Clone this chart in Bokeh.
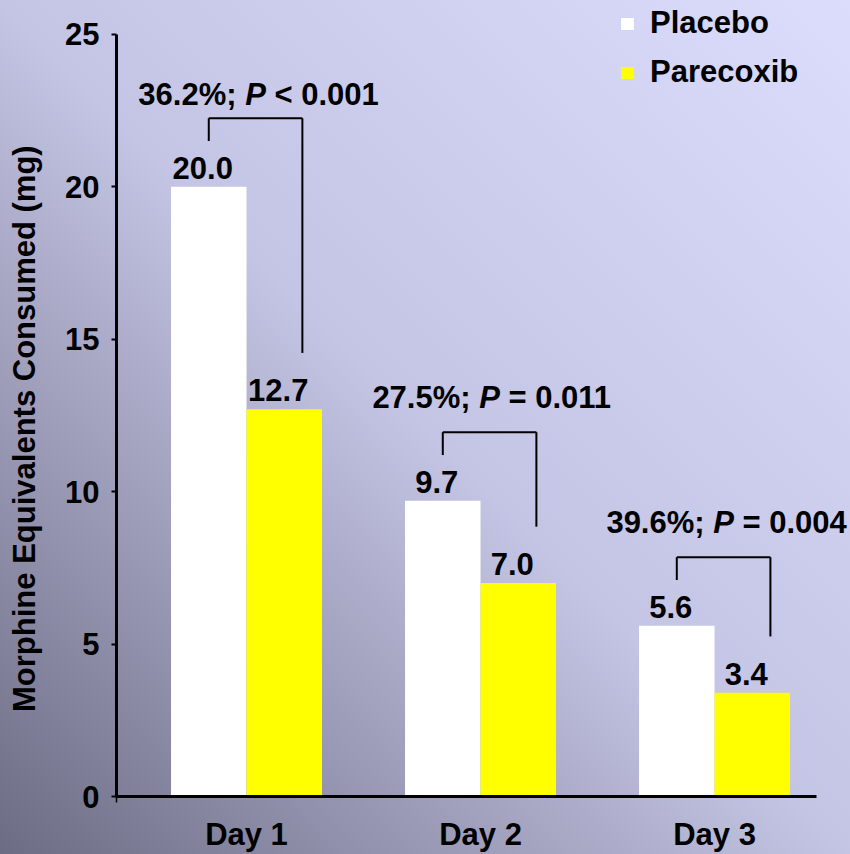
from bokeh.plotting import figure
from bokeh.models import ColumnDataSource, FixedTicker, Legend, LegendItem
from bokeh.core.properties import value
from bokeh.embed import file_html
from bokeh.resources import INLINE

# ---- data -------------------------------------------------------------
days = ["Day 1", "Day 2", "Day 3"]
placebo = [20.0, 9.7, 5.6]
parecoxib = [12.7, 7.0, 3.4]
reduction = ["36.2%", "27.5%", "39.6%"]
p_relation = ["<", "=", "="]
p_values = ["0.001", "0.011", "0.004"]
y_ticks = [0, 5, 10, 15, 20, 25]
y_title = "Morphine Equivalents Consumed (mg)"

# ---- styling / layout constants ---------------------------------------
FONT = "Liberation Sans"
FS = 31                      # font size in px
BAR_W = 0.3226               # width of one bar in category units
BRACKET_W = 0.40             # horizontal span of each comparison bracket
NOTE_GAP_PX = [24, 35, 35]   # lift of note baseline above its bracket
LABEL_LIFT_PX = 19           # lift of value labels above bar tops
YELLOW = "#FFFF00"
X_START, X_END = 0.4444, 3.581
Y_END = 26.11
TITLE_PAD = "\u00a0" * 7     # centres the y title on the 0-25 span

# Arial/Liberation Sans Bold advance widths (per 1000 em) for note text
ADV = {**{d: 556 for d in "0123456789"}, ".": 278, "%": 889, ";": 333,
       " ": 278, "<": 584, "=": 584, "P": 667}


def text_width(s):
    return sum(ADV.get(c, 556) for c in s) * FS / 1000.0


pos = [i + 1 for i in range(len(days))]
x_plc = [x - BAR_W / 2 for x in pos]
x_par = [x + BAR_W / 2 for x in pos]

p = figure(width=850, height=854, output_backend="svg", toolbar_location=None,
           x_range=(X_START, X_END), y_range=(0, Y_END),
           min_border_left=116, min_border_right=0, min_border_top=0,
           min_border_bottom=54)

p.background_fill_color = None
p.border_fill_color = None
p.outline_line_color = None
p.styles = {"background": "linear-gradient(to top right, rgb(108,108,132) 0%, "
                          "rgb(196,196,228) 50%, rgb(220,220,252) 100%)"}
p.grid.visible = False

# ---- bars ------------------------------------------------------------
r_plc = p.vbar(x=x_plc, top=placebo, width=BAR_W, fill_color="white",
               line_color=None)
r_par = p.vbar(x=x_par, top=parecoxib, width=BAR_W, fill_color=YELLOW,
               line_color=None)

# value labels above each bar
lab_src = ColumnDataSource(dict(
    x=x_plc + x_par,
    y=placebo + parecoxib,
    text=[f"{v:.1f}" for v in placebo + parecoxib],
))
p.text(x="x", y="y", text="text", source=lab_src, x_offset=-6,
       y_offset=-LABEL_LIFT_PX,
       text_font=value(FONT), text_font_size=value(f"{FS}px"),
       text_font_style="bold", text_align="center",
       text_baseline="alphabetic", text_color="black")

# ---- comparison brackets ---------------------------------------------
x0s, y0s, x1s, y1s = [], [], [], []
tops, mids = [], []
for xl, vp, vq in zip(x_plc, placebo, parecoxib):
    xr = xl + BRACKET_W
    top = vp + 2.25
    tops.append(top)
    mids.append((xl + xr) / 2)
    # left leg, top bar, right leg
    x0s += [xl, xl, xr]
    y0s += [top - 0.75, top, top]
    x1s += [xl, xr, xr]
    y1s += [top, top, vq + 1.85]
p.segment(x0=x0s, y0=y0s, x1=x1s, y1=y1s, line_color="black", line_width=2)

# note text: "<reduction>; P <rel> <value>" with an italic P
norm = dict(x=[], y=[], text=[], xo=[], yo=[])
ital = dict(x=[], y=[], text=[], xo=[], yo=[])
for xm, top, red, rel, pv, gap in zip(mids, tops, reduction, p_relation,
                                      p_values, NOTE_GAP_PX):
    pre, mid, post = f"{red};", "P", f"{rel} {pv}"
    sp = text_width(" ")
    w_pre, w_mid, w_post = text_width(pre), text_width(mid), text_width(post)
    total = w_pre + sp + w_mid + sp + w_post
    start = -total / 2 + 3
    for d, t, xo in ((norm, pre, start),
                     (ital, mid, start + w_pre + sp),
                     (norm, post, start + w_pre + sp + w_mid + sp)):
        d["x"].append(xm)
        d["y"].append(top)
        d["text"].append(t)
        d["xo"].append(xo)
        d["yo"].append(-gap)

for d, style in ((norm, "bold"), (ital, "bold italic")):
    p.text(x="x", y="y", text="text", x_offset="xo", y_offset="yo",
           source=ColumnDataSource(d), text_font=value(FONT),
           text_font_size=value(f"{FS}px"), text_font_style=style,
           text_align="left", text_baseline="alphabetic", text_color="black")

# ---- axes ------------------------------------------------------------
xa = p.xaxis[0]
# category ticks carry the labels; a single short tick marks the axis start
xa.ticker = FixedTicker(ticks=pos, minor_ticks=[X_START])
xa.major_label_overrides = {x: d for x, d in zip(pos, days)}
xa.bounds = (X_START, 3.436)
xa.axis_line_width = 3
xa.axis_line_color = "black"
xa.major_tick_out = 0
xa.major_tick_in = 0
xa.minor_tick_out = 6
xa.minor_tick_in = 0
xa.minor_tick_line_width = 1.5
xa.minor_tick_line_color = "black"
xa.major_label_standoff = 14
xa.major_label_text_font = FONT
xa.major_label_text_font_size = f"{FS}px"
xa.major_label_text_font_style = "bold"
xa.major_label_text_color = "black"

ya = p.yaxis[0]
ya.ticker = FixedTicker(ticks=y_ticks)
ya.bounds = (0, 25)
ya.axis_line_width = 3
ya.axis_line_color = "black"
ya.major_tick_out = 5
ya.major_tick_in = 0
ya.major_tick_line_width = 2
ya.major_tick_line_color = "black"
ya.minor_tick_out = 0
ya.minor_tick_in = 0
ya.major_label_standoff = 12
ya.major_label_text_font = FONT
ya.major_label_text_font_size = f"{FS}px"
ya.major_label_text_font_style = "bold"
ya.major_label_text_color = "black"
ya.axis_label = y_title + TITLE_PAD
ya.axis_label_text_font = FONT
ya.axis_label_text_font_size = f"{FS}px"
ya.axis_label_text_font_style = "bold"
ya.axis_label_text_color = "black"
ya.axis_label_standoff = 20

# ---- legend ------------------------------------------------------------
legend = Legend(items=[LegendItem(label="Placebo", renderers=[r_plc]),
                       LegendItem(label="Parecoxib", renderers=[r_par])],
                location=(503, 704), orientation="vertical",
                glyph_width=16, glyph_height=15, label_height=40,
                label_standoff=15, spacing=9, padding=0, margin=0,
                border_line_color=None, background_fill_alpha=0,
                label_text_font=FONT, label_text_font_size=f"{FS}px",
                label_text_font_style="bold", label_text_color="black")
p.add_layout(legend)

open("out.html", "w").write(file_html(p, INLINE))
